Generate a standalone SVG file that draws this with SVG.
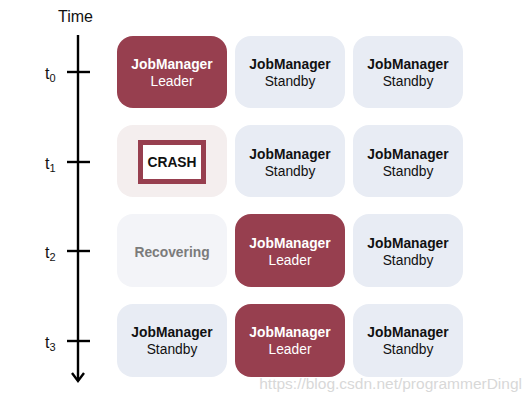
<svg xmlns="http://www.w3.org/2000/svg" width="531" height="403" viewBox="0 0 531 403">
<style>
.lead{fill:#973f4f}
.stby{fill:#e8ecf4}
.t{font-family:"Liberation Sans",Arial,sans-serif;font-size:13.8px;text-anchor:middle}
.b{font-weight:bold}
.w{fill:#ffffff}
.k{fill:#111111}
.ax{stroke:#000;stroke-width:2.4;fill:none}
.lbl{font-family:"Liberation Sans",Arial,sans-serif;font-size:16px;fill:#111}
.sub{font-size:11px}
</style>
<rect width="531" height="403" fill="#fff"/>
<text class="lbl" x="58" y="22" font-size="17.5">Time</text>
<g id="connectors">
<line class="ax" x1="78" y1="35" x2="78" y2="381"/>
<polyline class="ax" points="72,373 78,381 84,373"/>
<line class="ax" x1="67" y1="72" x2="90" y2="72"/>
<line class="ax" x1="67" y1="162" x2="90" y2="162"/>
<line class="ax" x1="67" y1="251" x2="90" y2="251"/>
<line class="ax" x1="67" y1="341" x2="90" y2="341"/>
</g>
<g id="ticks">
<text class="lbl" x="45" y="79">t<tspan class="sub" dy="3">0</tspan></text>
<text class="lbl" x="45" y="169">t<tspan class="sub" dy="3">1</tspan></text>
<text class="lbl" x="45" y="258">t<tspan class="sub" dy="3">2</tspan></text>
<text class="lbl" x="45" y="348">t<tspan class="sub" dy="3">3</tspan></text>
</g>
<g id="n00"><rect class="lead" x="117" y="36" width="110" height="72" rx="16"/><text class="t b w" x="172" y="69">JobManager</text><text class="t w" x="172" y="86">Leader</text></g>
<g id="n01"><rect class="stby" x="235" y="36" width="110" height="72" rx="16"/><text class="t b k" x="290" y="69">JobManager</text><text class="t k" x="290" y="86">Standby</text></g>
<g id="n02"><rect class="stby" x="353" y="36" width="110" height="72" rx="16"/><text class="t b k" x="408" y="69">JobManager</text><text class="t k" x="408" y="86">Standby</text></g>
<g id="n10"><rect fill="#f4eeee" x="117" y="125" width="110" height="72" rx="16"/><rect x="140.5" y="142.5" width="63" height="39" fill="#fff" stroke="#973f4f" stroke-width="5"/><text class="t b k" x="172" y="167">CRASH</text></g>
<g id="n11"><rect class="stby" x="235" y="125" width="110" height="72" rx="16"/><text class="t b k" x="290" y="159">JobManager</text><text class="t k" x="290" y="176">Standby</text></g>
<g id="n12"><rect class="stby" x="353" y="125" width="110" height="72" rx="16"/><text class="t b k" x="408" y="159">JobManager</text><text class="t k" x="408" y="176">Standby</text></g>
<g id="n20"><rect fill="#f3f4f8" x="117" y="214" width="110" height="73" rx="16"/><text class="t b" fill="#7b7b7b" x="172" y="257">Recovering</text></g>
<g id="n21"><rect class="lead" x="235" y="214" width="110" height="73" rx="16"/><text class="t b w" x="290" y="248">JobManager</text><text class="t w" x="290" y="265">Leader</text></g>
<g id="n22"><rect class="stby" x="353" y="214" width="110" height="73" rx="16"/><text class="t b k" x="408" y="248">JobManager</text><text class="t k" x="408" y="265">Standby</text></g>
<g id="n30"><rect class="stby" x="117" y="304" width="110" height="73" rx="16"/><text class="t b k" x="172" y="337">JobManager</text><text class="t k" x="172" y="354">Standby</text></g>
<g id="n31"><rect class="lead" x="235" y="304" width="110" height="73" rx="16"/><text class="t b w" x="290" y="337">JobManager</text><text class="t w" x="290" y="354">Leader</text></g>
<g id="n32"><rect class="stby" x="353" y="304" width="110" height="73" rx="16"/><text class="t b k" x="408" y="337">JobManager</text><text class="t k" x="408" y="354">Standby</text></g>
<text x="522" y="389" font-family="'Liberation Sans',Arial,sans-serif" font-size="15.5" fill="#d8d8d8" text-anchor="end">https://blog.csdn.net/programmerDingl</text>
</svg>
